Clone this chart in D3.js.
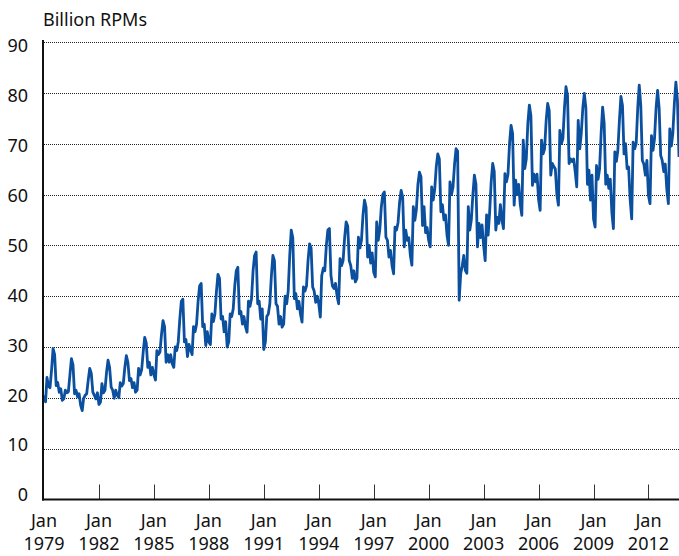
<!DOCTYPE html>
<html>
<head>
<meta charset="utf-8">
<script src="https://cdn.jsdelivr.net/npm/d3@7"></script>
<style>
    body { margin: 0; background: #fff; }
    text { font-family: "Noto Sans", sans-serif; fill: #111; }
</style>
</head>
<body>
<div id="demo"></div>
<script>

    // monthly revenue passenger miles (billions), Jan of first year onward
    let rpm1979to1983 = [
        20.5, 19.2, 24.0, 22.3, 22.0, 25.5, 29.7, 28.5, 22.4, 23.0, 21.1, 21.8,
        19.5, 19.8, 21.5, 21.0, 21.2, 24.5, 27.7, 26.5, 20.8, 21.5, 20.2, 20.8,
        18.5, 17.5, 19.9, 20.5, 20.8, 23.5, 25.8, 24.8, 21.1, 20.5, 19.8, 21.0,
        18.7, 19.2, 22.8, 21.0, 21.5, 25.0, 27.4, 26.0, 22.1, 21.5, 19.9, 21.5,
        20.5, 20.0, 23.0, 22.3, 22.8, 26.0, 28.3, 27.0, 23.4, 23.8, 22.0, 23.0
    ];
    let rpm1984to1988 = [
        21.1, 21.5, 25.8, 24.5, 25.5, 29.0, 31.9, 30.8, 26.0, 27.0, 24.5, 26.0,
        24.5, 23.5, 29.3, 28.5, 29.0, 32.5, 35.2, 34.0, 27.0, 28.5, 27.0, 28.5,
        26.7, 26.0, 30.0, 29.3, 31.0, 35.5, 39.0, 39.4, 31.0, 31.5, 28.1, 30.5,
        29.5, 28.5, 34.0, 33.0, 34.5, 39.0, 42.0, 42.5, 34.0, 34.5, 30.3, 33.0,
        31.0, 30.5, 36.5, 35.0, 36.5, 41.0, 44.3, 43.5, 35.5, 36.0, 33.0, 35.0
    ];
    let rpm1989to1993 = [
        30.0, 31.0, 36.5, 36.0, 37.5, 42.0, 45.0, 45.7, 36.5, 37.0, 34.5, 36.0,
        34.0, 32.9, 39.0, 38.0, 39.5, 45.0, 48.0, 48.7, 38.5, 39.0, 35.5, 37.5,
        29.5, 31.0, 36.0, 36.5, 38.5, 44.0, 48.0, 47.0, 38.5, 38.0, 34.5, 36.0,
        33.9, 34.5, 40.0, 38.5, 41.0, 48.0, 53.0, 51.5, 39.5, 40.5, 37.5, 39.0,
        36.5, 34.9, 41.8, 41.0, 42.0, 47.0, 50.3, 49.5, 41.8, 41.0, 38.8, 40.0
    ];
    let rpm1994to1998 = [
        38.5, 35.9, 44.0, 45.5, 45.0, 50.0, 53.0, 53.3, 44.1, 42.0, 41.5, 42.5,
        40.0, 38.5, 47.4, 46.0, 47.0, 51.5, 54.6, 53.8, 47.0, 46.0, 43.5, 45.0,
        42.8, 43.5, 51.6, 49.5, 51.0, 56.0, 58.9, 57.5, 47.7, 50.0, 46.5, 48.5,
        44.7, 43.8, 54.6, 51.0, 53.0, 57.5, 60.0, 60.5, 51.6, 51.0, 47.7, 49.0,
        46.0, 44.4, 53.6, 53.0, 54.5, 58.5, 60.8, 59.5, 49.7, 53.0, 51.0, 51.5
    ];
    let rpm1999to2003 = [
        48.0, 46.1, 57.6, 54.9, 57.0, 62.0, 64.4, 63.5, 53.9, 57.6, 52.5, 53.5,
        51.0, 49.7, 61.5, 58.9, 61.0, 65.5, 68.0, 67.0, 56.6, 58.0, 55.0, 56.0,
        52.0, 50.0, 62.5, 60.0, 61.5, 66.0, 69.0, 68.5, 39.2, 44.4, 46.0, 48.0,
        45.1, 44.5, 57.6, 53.0, 55.0, 60.0, 63.8, 62.0, 49.7, 54.3, 51.5, 54.0,
        50.0, 47.0, 56.0, 52.0, 56.5, 62.5, 66.1, 64.5, 53.0, 55.5, 54.3, 58.0
    ];
    let rpm2004to2008 = [
        55.0, 53.3, 64.1, 62.5, 64.0, 70.0, 73.6, 72.0, 57.9, 62.8, 60.0, 62.0,
        58.0, 55.9, 70.7, 65.1, 67.0, 74.0, 77.6, 75.5, 61.8, 64.0, 62.5, 64.0,
        59.0, 56.9, 70.7, 68.0, 69.0, 74.5, 77.9, 76.5, 63.8, 66.1, 65.5, 65.0,
        60.0, 57.9, 72.6, 70.0, 71.0, 77.0, 81.2, 79.5, 66.1, 67.0, 66.5, 67.0,
        64.5, 61.5, 74.6, 69.0, 72.0, 77.0, 79.9, 77.0, 62.0, 64.8, 58.9, 63.8
    ];
    let rpm2009to2013 = [
        55.2, 53.6, 65.7, 63.0, 65.0, 72.0, 77.2, 74.0, 62.0, 63.8, 61.2, 63.0,
        56.5, 53.3, 68.4, 66.5, 68.7, 74.6, 79.3, 77.5, 68.0, 70.0, 65.1, 65.4,
        59.0, 55.2, 70.3, 69.0, 70.0, 77.0, 81.5, 77.5, 66.7, 66.0, 63.8, 66.7,
        59.8, 58.2, 71.6, 68.7, 71.0, 77.0, 80.5, 77.0, 67.7, 66.7, 64.5, 66.0,
        61.0, 58.2, 72.9, 69.5, 72.0, 78.0, 82.1, 78.5, 67.4
    ];

    let yTicks = [0, 10, 20, 30, 40, 50, 60, 70, 80, 90];
    let xTickYears = [1979, 1982, 1985, 1988, 1991, 1994, 1997, 2000, 2003, 2006, 2009, 2012];
    let yLabel = "Billion RPMs";

    let values = [].concat(rpm1979to1983, rpm1984to1988, rpm1989to1993,
        rpm1994to1998, rpm1999to2003, rpm2004to2008, rpm2009to2013);
    let data = values.map((v, i) => ({ date: new Date(1979, i, 1), value: v }));

    let w = 679;
    let h = 556;
    let m = {top: 42, right: 0, bottom: 57, left: 44};

    let svg = d3.select("#demo")
        .append("svg")
        .attr("width", w)
        .attr("height", h);

    let x = d3.scaleTime()
        .domain([data[0].date, data[data.length - 1].date])
        .range([m.left, w - m.right]);

    let y = d3.scaleLinear()
        .domain([0, 90])
        .range([h - m.bottom + 0.5, m.top]);

    // labels sit a touch off the grid in the original
    let yText = d3.scaleLinear()
        .domain([0, 90])
        .range([h - m.bottom - 4, m.top + 4]);

    // dotted gridlines
    svg.append("g")
        .selectAll("line")
        .data(yTicks.filter((d) => d > 0))
        .enter()
        .append("line")
        .attr("x1", m.left)
        .attr("x2", w)
        .attr("y1", (d) => Math.round(y(d)) + 0.5)
        .attr("y2", (d) => Math.round(y(d)) + 0.5)
        .attr("stroke", "#222")
        .attr("stroke-width", 1)
        .attr("stroke-dasharray", "1,1");

    // y tick labels
    svg.append("g")
        .selectAll("text")
        .data(yTicks)
        .enter()
        .append("text")
        .attr("x", 28)
        .attr("y", (d) => yText(d))
        .attr("dy", "0.35em")
        .attr("text-anchor", "end")
        .style("font-size", "18px")
        .text((d) => d);

    svg.append("text")
        .attr("x", m.left - 1)
        .attr("y", 26)
        .style("font-size", "18px")
        .text(yLabel);

    // x ticks point up into the plot
    let tickDates = xTickYears.map((yr) => new Date(yr, 0, 1));

    svg.append("g")
        .selectAll("line")
        .data(tickDates.slice(1))
        .enter()
        .append("line")
        .attr("x1", (d) => Math.round(x(d)) + 0.5)
        .attr("x2", (d) => Math.round(x(d)) + 0.5)
        .attr("y1", y(0) - 15)
        .attr("y2", y(0))
        .attr("stroke", "#333")
        .attr("stroke-width", 1);

    // two-line month / year labels
    let xl = svg.append("g")
        .selectAll("text")
        .data(tickDates)
        .enter()
        .append("text")
        .attr("x", (d) => x(d))
        .attr("text-anchor", "middle")
        .style("font-size", "18px");

    xl.append("tspan")
        .attr("x", (d) => x(d))
        .attr("y", 527)
        .text("Jan");

    xl.append("tspan")
        .attr("x", (d) => x(d))
        .attr("y", 550)
        .text((d) => d.getFullYear());

    // the series
    let line = d3.line()
        .x((d) => x(d.date))
        .y((d) => y(d.value));

    svg.append("path")
        .datum(data)
        .attr("fill", "none")
        .attr("stroke", "#0b4f9f")
        .attr("stroke-width", 2.8)
        .attr("stroke-linejoin", "round")
        .attr("d", line);

    // axes lines
    svg.append("line")
        .attr("x1", m.left - 1)
        .attr("x2", m.left - 1)
        .attr("y1", 40)
        .attr("y2", y(0) + 1)
        .attr("stroke", "#111")
        .attr("stroke-width", 2);

    svg.append("line")
        .attr("x1", m.left - 2)
        .attr("x2", w)
        .attr("y1", y(0))
        .attr("y2", y(0))
        .attr("stroke", "#111")
        .attr("stroke-width", 2);

</script>
</body>
</html>
